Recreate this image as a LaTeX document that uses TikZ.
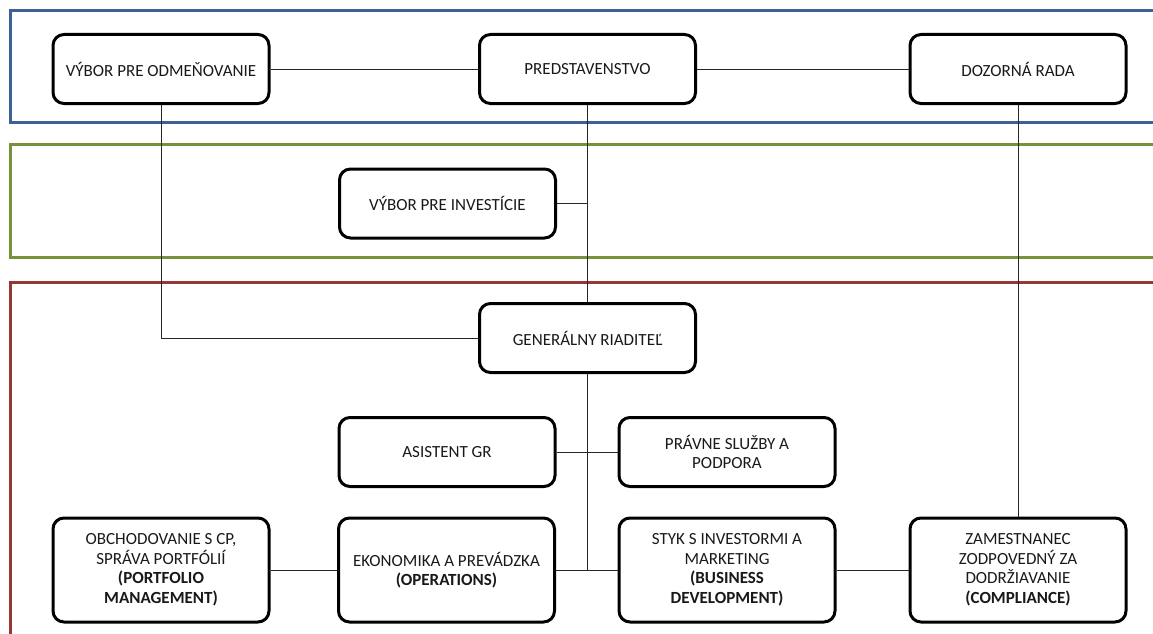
\documentclass[tikz,border=0pt]{standalone}
\usepackage{fontspec}
\setmainfont{Carlito}
\definecolor{bandblue}{RGB}{60,98,147}
\definecolor{bandgreen}{RGB}{118,146,60}
\definecolor{bandred}{RGB}{149,55,53}
\tikzset{
  orgbox/.style={draw=black, line width=3pt, rounded corners=11pt, fill=white,
    minimum width=216pt, minimum height=69pt, align=center, inner sep=2pt,
    text=black!90, font=\fontsize{17}{19.5}\selectfont},
  tallbox/.style={orgbox, minimum height=104pt},
  conn/.style={draw=black!85, line width=1pt},
  band/.style={line width=3pt}
}
\begin{document}
\begin{tikzpicture}[x=1pt,y=-1pt]
\useasboundingbox (0,0) rectangle (1153,634);
\begin{scope}
\clip (0,0) rectangle (1153,634);
\draw[band, draw=bandblue] (10,11) rectangle (1180,122);
\draw[band, draw=bandgreen] (10,144) rectangle (1180,257);
\draw[band, draw=bandred] (10,282) rectangle (1180,660);
\end{scope}

\node[orgbox] (odm) at (161,69) {VÝBOR PRE ODMEŇOVANIE};
\node[orgbox] (pred) at (587.5,69) {PREDSTAVENSTVO};
\node[orgbox] (doz) at (1018,69) {DOZORNÁ RADA};
\node[orgbox] (inv) at (447.5,203.5) {VÝBOR PRE INVESTÍCIE};
\node[orgbox] (gr) at (587.5,338) {GENERÁLNY RIADITEĽ};
\node[orgbox] (asist) at (447,452) {ASISTENT GR};
\node[orgbox] (prav) at (727,452) {PRÁVNE SLUŽBY A\\PODPORA};
\node[tallbox] (obch) at (161,570) {OBCHODOVANIE S CP,\\SPRÁVA PORTFÓLIÍ\\\textbf{(PORTFOLIO}\\\textbf{MANAGEMENT)}};
\node[tallbox] (ekon) at (446.5,570) {EKONOMIKA A PREVÁDZKA\\\textbf{(OPERATIONS)}};
\node[tallbox] (styk) at (727,570) {STYK S INVESTORMI A\\MARKETING\\\textbf{(BUSINESS}\\\textbf{DEVELOPMENT)}};
\node[tallbox] (zam) at (1018,570) {ZAMESTNANEC\\ZODPOVEDNÝ ZA\\DODRŽIAVANIE\\\textbf{(COMPLIANCE)}};

\coordinate (jinv) at (pred.south |- inv.east);
\coordinate (jbot) at (gr.south |- ekon.east);

\draw[conn] (odm.east) -- (pred.west);
\draw[conn] (pred.east) -- (doz.west);
\draw[conn] (pred.south) -- (gr.north);
\draw[conn] (inv.east) -- (jinv);
\draw[conn] (odm.south) |- (gr.west);
\draw[conn] (gr.south) -- (jbot);
\draw[conn] (asist.east) -- (prav.west);
\draw[conn] (obch.east) -- (ekon.west);
\draw[conn] (ekon.east) -- (styk.west);
\draw[conn] (styk.east) -- (zam.west);
\draw[conn] (doz.south) -- (zam.north);
\end{tikzpicture}
\end{document}
